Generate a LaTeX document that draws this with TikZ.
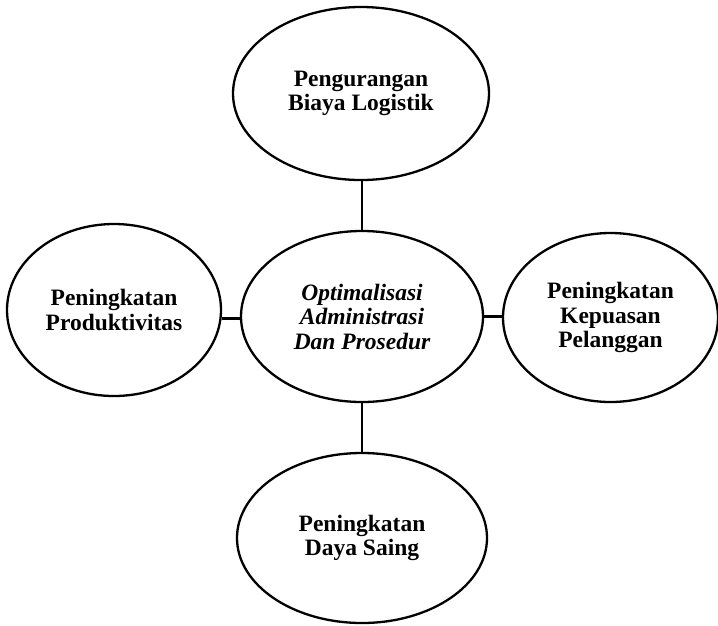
\documentclass[tikz,border=0pt]{standalone}
\usepackage{fontspec}
\setmainfont{Liberation Serif}
\usetikzlibrary{shapes.geometric}

\tikzset{
  bubble/.style={ellipse, draw=black, line width=2.3pt, inner sep=0pt,
    align=center, font=\fontsize{23.5}{24.5}\selectfont\bfseries},
  hub/.style={bubble, font=\fontsize{23.5}{24.5}\selectfont\bfseries\itshape},
  link/.style={draw=black, line width=2.3pt}
}

\begin{document}
\begin{tikzpicture}[x=1pt, y=-1pt]
  \useasboundingbox (0,0) rectangle (718,625);

  % central idea
  \node[hub, minimum width=242pt, minimum height=171pt] (core) at (362,316.5)
    {Optimalisasi\\Administrasi\\Dan Prosedur};

  % surrounding outcomes
  \node[bubble, minimum width=256pt, minimum height=173pt] (cost) at (361,93.5)
    {Pengurangan\\Biaya Logistik};
  \node[bubble, minimum width=214pt, minimum height=172pt] (prod) at (114,310)
    {Peningkatan\\Produktivitas};
  \node[bubble, minimum width=215pt, minimum height=169pt] (cust) at (610.5,317.5)
    {Peningkatan\\Kepuasan\\Pelanggan};
  \node[bubble, minimum width=250pt, minimum height=170pt] (comp) at (362,538)
    {Peningkatan\\Daya Saing};

  % connectors
  \draw[link] (core.north) -- (core.north |- cost.south);
  \draw[link] (core.south) -- (core.south |- comp.north);
  \draw[link] ([yshift=-2pt]core.west) -- ([yshift=-2pt]core.west -| prod.east);
  \draw[link] (core.east) -- (core.east -| cust.west);
\end{tikzpicture}
\end{document}
